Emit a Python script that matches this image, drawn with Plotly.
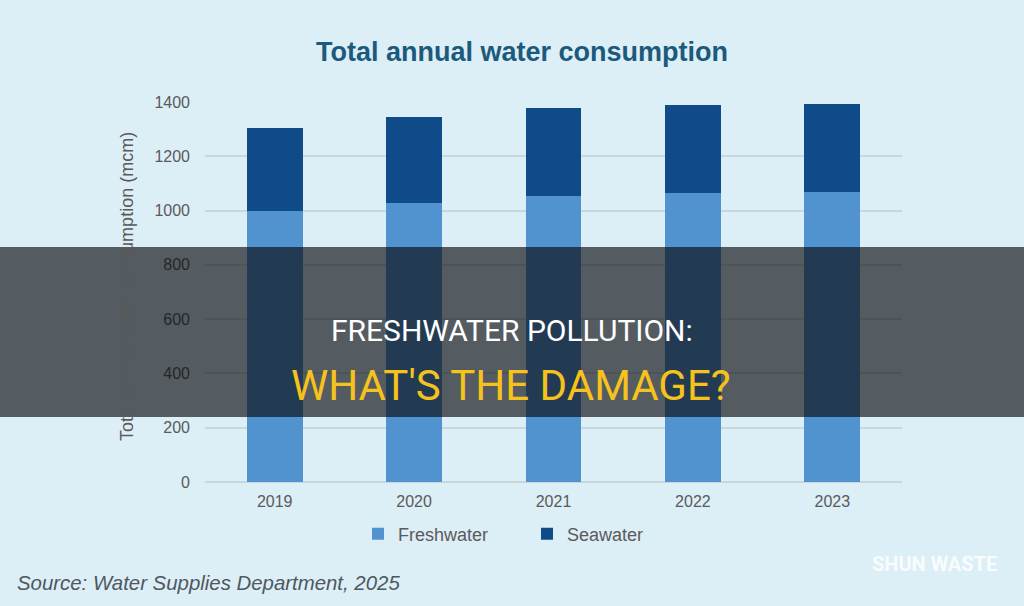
import plotly.graph_objects as go

years = ["2019", "2020", "2021", "2022", "2023"]
freshwater = [998, 1029, 1054, 1065, 1069]
seawater = [306, 316, 324, 324, 324]
y_ticks = [0, 200, 400, 600, 800, 1000, 1200, 1400]

W, H = 1024, 606
L, R, T, B = 205, 902, 102, 482  # plot area in pixels

def px(x):
    return (x - L) / (R - L)

def py(y):
    return (B - y) / (B - T)

BG = "#dceef6"
fig = go.Figure()
fig.add_trace(go.Bar(x=years, y=freshwater, name="Freshwater", marker_color="#5093cf",
                     marker_line_width=0))
fig.add_trace(go.Bar(x=years, y=seawater, name="Seawater", marker_color="#0f4b88",
                     marker_line_width=0))

fig.update_layout(
    width=W, height=H,
    barmode="stack", bargap=0.6,
    paper_bgcolor=BG, plot_bgcolor=BG,
    margin=dict(l=L, r=W - R, t=T, b=H - B, pad=0, autoexpand=False),
    font=dict(family="Liberation Sans, Arial, sans-serif", color="#5a5a5a", size=16),
    title=dict(text="<b>Total annual water consumption</b>", x=522 / W, xanchor="center",
               y=1 - 52 / H, yanchor="middle", yref="container",
               font=dict(size=27, color="#1b5a7d", family="Liberation Sans, Arial, sans-serif")),
    showlegend=True,
    legend=dict(orientation="h", x=(512 + 15) / W, xref="container", xanchor="center",
                y=1 - 534 / H, yref="container", yanchor="middle",
                traceorder="normal", font=dict(size=18, color="#5a5a5a"),
                bgcolor="rgba(0,0,0,0)", entrywidth=124, entrywidthmode="pixels",
                itemsizing="constant"),
    xaxis=dict(showgrid=False, showline=False, ticks="", ticklabelstandoff=8,
               tickfont=dict(size=16, color="#5a5a5a")),
    yaxis=dict(range=[0, 1400], tickvals=y_ticks, showgrid=True, gridcolor="#c8d7de",
               gridwidth=1.5, zeroline=True, zerolinecolor="#c8d7de", zerolinewidth=1.5,
               ticks="", ticklabelstandoff=14, tickfont=dict(size=16, color="#5a5a5a")),
)

# y axis title
fig.add_annotation(text="Total annual water consumption (mcm)", textangle=-90,
                   xref="paper", yref="paper", x=px(127), y=py(287), showarrow=False,
                   xanchor="center", yanchor="middle",
                   font=dict(size=18, color="#5a5a5a"))

# dark overlay band
fig.add_shape(type="rect", xref="paper", yref="paper", x0=px(0), x1=px(W),
              y0=py(417), y1=py(247), fillcolor="rgba(8,10,12,0.64)", line_width=0,
              layer="above")

fig.add_annotation(text="FRESHWATER POLLUTION:", xref="paper", yref="paper",
                   x=px(512), y=py(330), showarrow=False, xanchor="center", yanchor="middle",
                   font=dict(size=30, color="#ffffff", family="Roboto, sans-serif"))
fig.add_annotation(text="WHAT'S THE DAMAGE?", xref="paper", yref="paper",
                   x=px(511), y=py(385), showarrow=False, xanchor="center", yanchor="middle",
                   font=dict(size=42, color="#f6c21c", family="Roboto, sans-serif"))

# source
fig.add_annotation(text="<i>Source: Water Supplies Department, 2025</i>", xref="paper",
                   yref="paper", x=px(15), y=py(583), showarrow=False, xanchor="left",
                   yanchor="middle", font=dict(size=20.4, color="#4d5860"))
# watermark
fig.add_annotation(text="<b>SHUN WASTE</b>", xref="paper", yref="paper", x=px(999),
                   y=py(564), showarrow=False, xanchor="right", yanchor="middle",
                   font=dict(size=20, color="rgba(255,255,255,0.85)",
                             family="Roboto, sans-serif"))

fig.write_html("out.html")
